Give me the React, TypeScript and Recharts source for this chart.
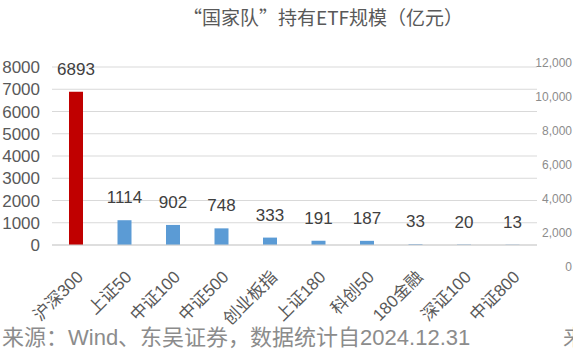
import React from "react";
import { BarChart, Bar, XAxis, YAxis, CartesianGrid, Cell, LabelList } from "recharts";

// ---------------------------------------------------------------------------
// Data
// ---------------------------------------------------------------------------

const categories = ["沪深300", "上证50", "中证100", "中证500", "创业板指", "上证180", "科创50", "180金融", "深证100", "中证800"];
const holdings = [6893, 1114, 902, 748, 333, 191, 187, 33, 20, 13];
const leftTicks = [0, 1000, 2000, 3000, 4000, 5000, 6000, 7000, 8000];
const rightTicks = [0, 2000, 4000, 6000, 8000, 10000, 12000];

const title = "“国家队”持有ETF规模（亿元）";
const source = "来源：Wind、东吴证券，数据统计自2024.12.31";

const rows = categories.map((name, i) => ({ name, value: holdings[i] }));

const FONT = "'Liberation Sans', 'Noto Sans CJK SC', sans-serif";
const RED = "#C00000";
const BLUE = "#5B9BD5";

// rotated category label, ends just under the bar
function SlantTick({ x, y, payload }: any) {
  return (
    <g transform={`translate(${x + 8},${y + 25})`}>
      <text
        x={0}
        y={0}
        textAnchor="end"
        transform="rotate(-45)"
        fontSize={17}
        fill="#595959"
        fontFamily={FONT}
      >
        {payload.value}
      </text>
    </g>
  );
}

export default function App() {
  return (
    <div
      style={{
        position: "absolute",
        left: 0,
        top: 0,
        width: 573,
        height: 351,
        overflow: "hidden",
        background: "#fff",
        fontFamily: FONT,
      }}
    >
      <div
        style={{
          position: "absolute",
          left: 183,
          top: 4,
          whiteSpace: "nowrap",
          fontSize: 19,
          lineHeight: "26px",
          color: "#595959",
          fontFamily: "'Noto Sans CJK SC', sans-serif",
        }}
      >
        {title}
      </div>

      {/* secondary axis (belongs to the neighbouring chart) */}
      <div style={{ position: "absolute", left: 0, top: 0 }}>
        <BarChart width={573} height={351} data={rows} margin={{ top: 63, right: 0, bottom: 84, left: 0 }}>
          <XAxis dataKey="name" hide />
          <YAxis
            yAxisId="r"
            orientation="right"
            width={36}
            domain={[0, 12000]}
            ticks={rightTicks}
            interval={0}
            axisLine={false}
            tickLine={false}
            tickSize={0}
            tickMargin={35}
            tickFormatter={(v: number) => v.toLocaleString("en-US")}
            tick={{ fontSize: 12, fill: "#8c8c8c", textAnchor: "end", fontFamily: FONT }}
          />
          <Bar yAxisId="r" dataKey="value" fill="transparent" isAnimationActive={false} />
        </BarChart>
      </div>

      <div style={{ position: "absolute", left: 0, top: 0 }}>
        <BarChart width={573} height={351} data={rows} margin={{ top: 67, right: 36, bottom: 0, left: 0 }}>
          <CartesianGrid vertical={false} stroke="#d9d9d9" />
          <XAxis
            dataKey="name"
            interval={0}
            height={106}
            tickLine={false}
            axisLine={{ stroke: "#d0d0d0" }}
            tick={<SlantTick />}
          />
          <YAxis
            width={52}
            domain={[0, 8000]}
            ticks={leftTicks}
            interval={0}
            axisLine={false}
            tickLine={false}
            tickMargin={6}
            tick={{ fontSize: 17, fill: "#595959", fontFamily: FONT }}
          />
          <Bar dataKey="value" barSize={14} isAnimationActive={false}>
            {rows.map((r, i) => (
              <Cell key={`cell-${i}`} fill={i === 0 ? RED : BLUE} />
            ))}
            <LabelList
              dataKey="value"
              position="top"
              offset={17}
              style={{ fontSize: 17, fill: "#404040", fontFamily: FONT }}
            />
          </Bar>
        </BarChart>
      </div>

      <div
        style={{
          position: "absolute",
          left: 2,
          top: 326,
          fontSize: 22,
          lineHeight: "24px",
          color: "#8c8c8c",
          whiteSpace: "nowrap",
        }}
      >
        {source}
      </div>
      <div
        style={{
          position: "absolute",
          left: 563,
          top: 326,
          fontSize: 22,
          lineHeight: "24px",
          color: "#8c8c8c",
          whiteSpace: "nowrap",
        }}
      >
        来源
      </div>
    </div>
  );
}
